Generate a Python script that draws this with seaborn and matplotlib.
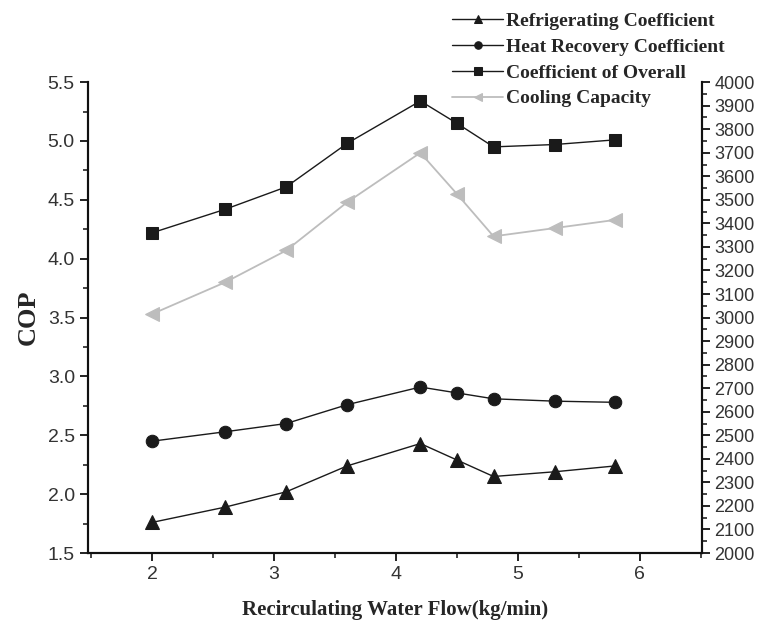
import matplotlib
matplotlib.use("Agg")
import matplotlib.pyplot as plt
from matplotlib.ticker import MultipleLocator, FormatStrFormatter
import seaborn as sns
import pandas as pd

flow = [2.0, 2.6, 3.1, 3.6, 4.2, 4.5, 4.8, 5.3, 5.8]
refrigerating = [1.76, 1.89, 2.02, 2.24, 2.43, 2.29, 2.15, 2.19, 2.24]
heat_recovery = [2.45, 2.53, 2.60, 2.76, 2.91, 2.86, 2.81, 2.79, 2.78]
overall = [4.22, 4.42, 4.61, 4.98, 5.34, 5.15, 4.95, 4.97, 5.01]
cooling_capacity = [3015, 3150, 3285, 3490, 3700, 3525, 3345, 3380, 3415]

labels = ["Refrigerating Coefficient", "Heat Recovery Coefficient",
          "Coefficient of Overall", "Cooling Capacity"]

sns.set_style("ticks")
plt.rcParams["font.family"] = ["Liberation Sans", "DejaVu Sans"]

df = pd.DataFrame({"flow": flow, "ref": refrigerating, "heat": heat_recovery,
                   "overall": overall, "cap": cooling_capacity})

fig = plt.figure(figsize=(7.59, 6.27), dpi=100)
ax = fig.add_axes([0.116, 0.118, 0.809, 0.751])
ax2 = ax.twinx()

dark = "#1a1a1a"
light = "#bdbdbd"
sns.lineplot(data=df, x="flow", y="ref", ax=ax, color=dark, lw=1.0,
             marker="^", markersize=10, markeredgecolor=dark, label=labels[0], legend=False)
sns.lineplot(data=df, x="flow", y="heat", ax=ax, color=dark, lw=1.0,
             marker="o", markersize=9, markeredgecolor=dark, label=labels[1], legend=False)
sns.lineplot(data=df, x="flow", y="overall", ax=ax, color=dark, lw=1.0,
             marker="s", markersize=9, markeredgecolor=dark, label=labels[2], legend=False)
sns.lineplot(data=df, x="flow", y="cap", ax=ax2, color=light, lw=1.3,
             marker="<", markersize=10, markeredgecolor=light, label=labels[3], legend=False)

ax.set_xlim(1.475, 6.51)
ax.set_ylim(1.5, 5.5)
ax2.set_ylim(2000, 4000)
ax.xaxis.set_major_locator(MultipleLocator(1))
ax.xaxis.set_minor_locator(MultipleLocator(0.5))
ax.yaxis.set_major_locator(MultipleLocator(0.5))
ax.yaxis.set_minor_locator(MultipleLocator(0.25))
ax2.yaxis.set_major_locator(MultipleLocator(100))
ax2.yaxis.set_minor_locator(MultipleLocator(50))
ax.yaxis.set_major_formatter(FormatStrFormatter("%.1f"))

for a in (ax, ax2):
    a.spines["top"].set_visible(False)
    for s in a.spines.values():
        s.set_linewidth(1.5)
        s.set_color("#111111")
    a.tick_params(which="major", direction="out", length=6, width=1.3,
                  labelsize=14, labelcolor="#333333", color="#111111")
    a.tick_params(which="minor", direction="out", length=3.5, width=1.1, color="#111111")
ax2.tick_params(axis="y", which="major", pad=3, labelsize=13)

ax.set_xlabel("Recirculating Water Flow(kg/min)", family="Liberation Serif",
              fontweight="bold", fontsize=15, labelpad=12)
ax.set_ylabel("COP", family="Liberation Serif", fontweight="bold", fontsize=19, labelpad=6)
ax2.set_ylabel("")

handles = ax.get_lines()[:3] + ax2.get_lines()[:1]
fig.legend(handles, labels, loc="upper left", bbox_to_anchor=(0.573, 1.008),
           frameon=False, handlelength=2.6, handletextpad=0.15, labelspacing=0.42,
           markerscale=0.6,
           prop={"family": "Liberation Serif", "weight": "bold", "size": 14})

fig.savefig("out.png", dpi=100)
